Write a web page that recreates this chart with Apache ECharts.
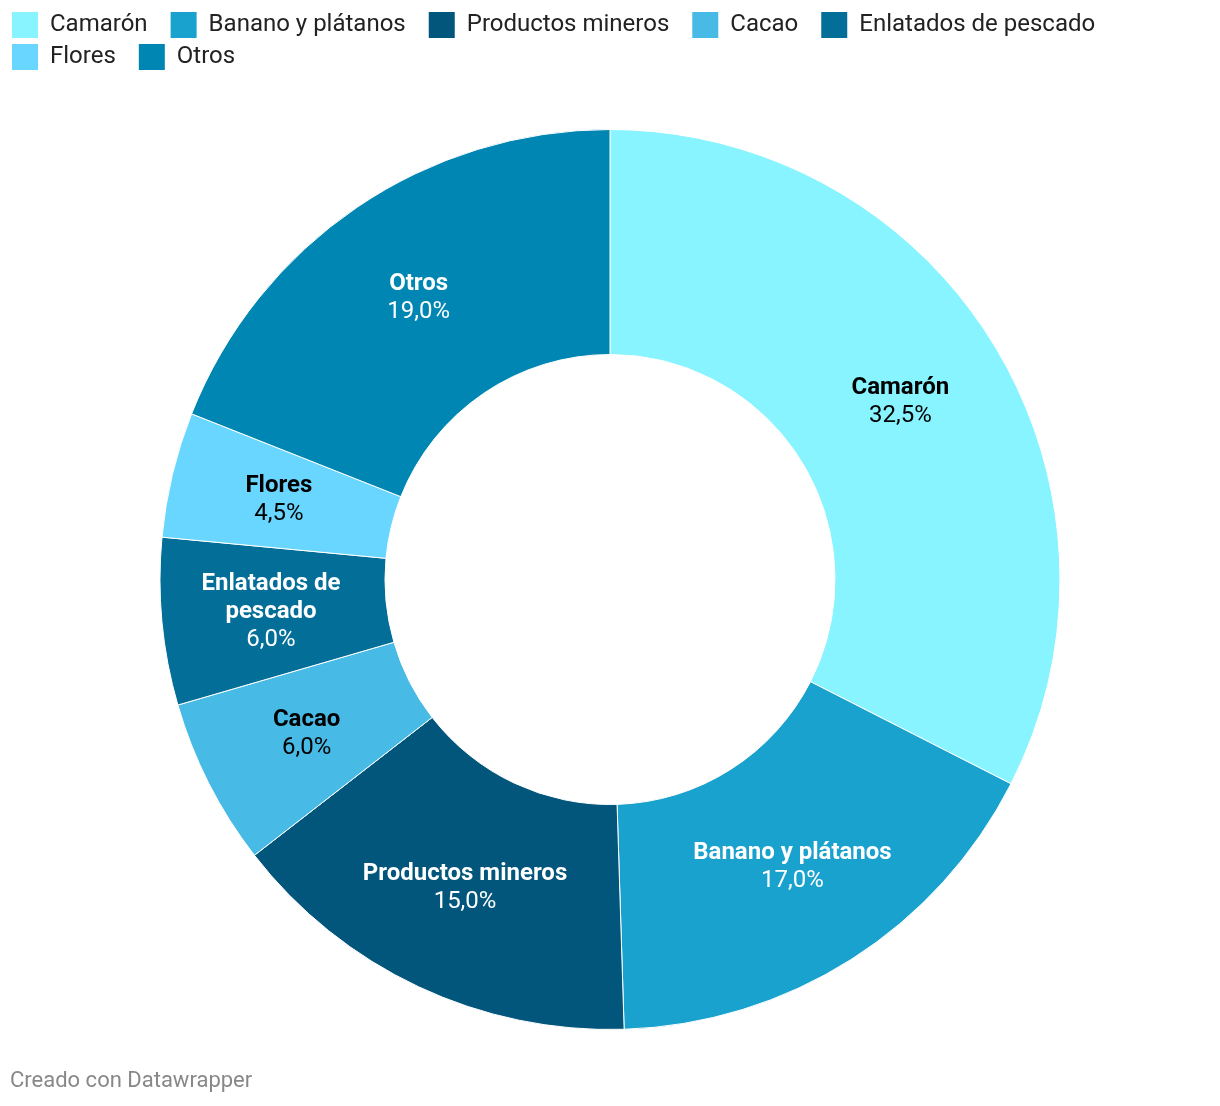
<!DOCTYPE html>
<html><head><meta charset="utf-8">
<script src="https://cdn.jsdelivr.net/npm/echarts@6/dist/echarts.min.js"></script>
<style>html,body{margin:0;padding:0;background:#fff}#c{width:1220px;height:1106px}</style>
</head><body><div id="c"></div>
<script>
const categories = ["Camarón","Banano y plátanos","Productos mineros","Cacao","Enlatados de pescado","Flores","Otros"];
const values = [32.5,17.0,15.0,6.0,6.0,4.5,19.0];
const colors = ["#88f4ff","#1aa2cf","#02557b","#47bbe6","#036e97","#69d6ff","#0086b2"];
const labelColors = ["#000","#fff","#fff","#000","#fff","#000","#fff"];

const chart = echarts.init(document.getElementById('c'), null, {renderer:'canvas'});
const legendCommon = {
  left: 10, orient:'horizontal', itemWidth:28, itemHeight:28, itemGap:21, icon:'rect', padding:0,
  textStyle:{fontFamily:'Roboto', fontSize:24, color:'#222', padding:[0,0,0,6]},
  selectedMode:false
};
chart.setOption({
  animation:false,
  color: colors,
  legend:[
    Object.assign({}, legendCommon, {top:10, data:categories.slice(0,5)}),
    Object.assign({}, legendCommon, {top:42, data:categories.slice(5)})
  ],
  graphic:[{type:'text', left:10, top:1070, style:{text:'Creado con Datawrapper', fill:'#888', font:'22px Roboto'}}],
  series:[{
    type:'pie', center:[610,579.5], radius:[225,450], startAngle:90, clockwise:true,
    avoidLabelOverlap:false,
    itemStyle:{borderColor:'#fff', borderWidth:1},
    label:{show:true, position:'inside', fontFamily:'Roboto', lineHeight:28,
      formatter: p => '{b|' + p.name.replace('de pescado','de\npescado').split('\n').join('}\n{b|') + '}\n{v|' + p.value.toFixed(1).replace('.',',') + '%}',
    },
    labelLine:{show:false},
    data: categories.map((n,i)=>({name:n, value:values[i],
      label:{color:labelColors[i], rich:{
        b:{fontFamily:'Roboto', fontWeight:'bold', fontSize:24, lineHeight:28, color:labelColors[i]},
        v:{fontFamily:'Roboto', fontSize:24, lineHeight:28, color:labelColors[i]}}}}))
  }]
});
</script></body></html>
